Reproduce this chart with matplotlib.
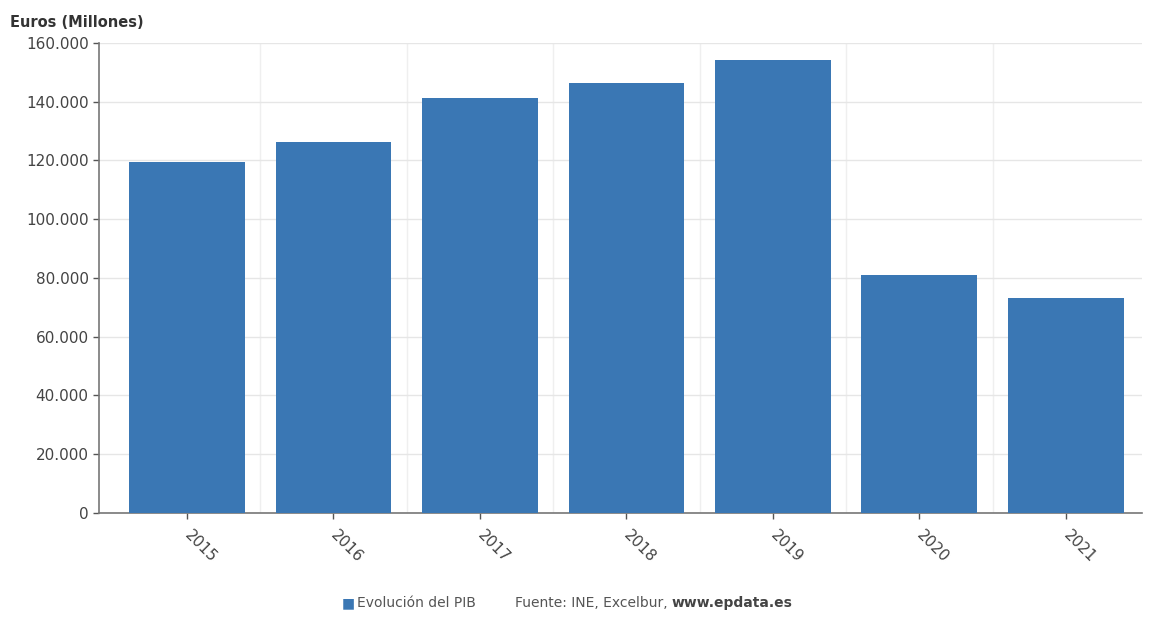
import matplotlib
matplotlib.use('Agg')
import matplotlib.pyplot as plt
from matplotlib.ticker import FuncFormatter

# datos
years = ['2015', '2016', '2017', '2018', '2019', '2020', '2021']
pib = [119500, 126300, 141300, 146400, 154300, 81000, 73200]
yticks = [0, 20000, 40000, 60000, 80000, 100000, 120000, 140000, 160000]

bar_color = '#3a77b4'
grey = '#555555'

fig = plt.figure(figsize=(11.54, 6.18), dpi=100)
ax = fig.add_axes([0.0858, 0.170, 0.9038, 0.7605])

x = list(range(len(years)))
ax.bar(x, pib, width=0.79, color=bar_color, zorder=3)

ax.set_xlim(-0.6, 6.52)
ax.set_ylim(0, 160000)
ax.set_yticks(yticks)
ax.yaxis.set_major_formatter(FuncFormatter(lambda v, p: f'{int(v):,}'.replace(',', '.')))
ax.set_xticks(x)
ax.set_xticklabels(years, rotation=-45, rotation_mode='anchor', ha='left', va='center')

ax.tick_params(axis='both', colors=grey, labelsize=11, length=4, width=1)
ax.tick_params(axis='x', pad=10)
for lab in ax.get_xticklabels() + ax.get_yticklabels():
    lab.set_color('#444444')

# rejilla
ax.grid(axis='y', color='#e6e6e6', linewidth=1, zorder=0)
ax.set_xticks([i + 0.5 for i in x[:-1]], minor=True)
ax.tick_params(axis='x', which='minor', length=0)
ax.grid(axis='x', which='minor', color='#efefef', linewidth=1, zorder=0)

for s in ['top', 'right']:
    ax.spines[s].set_visible(False)
for s in ['left', 'bottom']:
    ax.spines[s].set_color('#777777')
    ax.spines[s].set_linewidth(1.2)

fig.text(0.009, 0.964, 'Euros (Millones)', fontsize=10.5, fontweight='bold', color='#333333', va='center')

# leyenda y fuente
fig.text(0.296, 0.024, '\u25a0', fontsize=10, color=bar_color, va='center')
fig.text(0.309, 0.024, 'Evolución del PIB', fontsize=10, color='#555555', va='center')
src = fig.text(0.446, 0.024, 'Fuente: INE, Excelbur, ', fontsize=10, color='#555555', va='center')
fig.canvas.draw()
bb = src.get_window_extent(renderer=fig.canvas.get_renderer())
fig.text(bb.x1 / fig.bbox.width, 0.024, 'www.epdata.es', fontsize=10, color='#444444',
         fontweight='bold', va='center')

fig.savefig('out.png', dpi=100)
